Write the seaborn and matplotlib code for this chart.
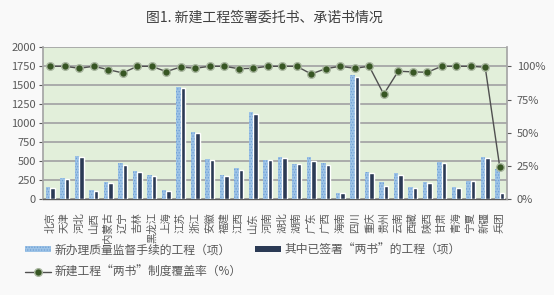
import numpy as np
import pandas as pd
import seaborn as sns
import matplotlib.pyplot as plt
from matplotlib.ticker import PercentFormatter

# 数据（从图中读取，估计值）
provinces = ["北京", "天津", "河北", "山西", "内蒙古", "辽宁", "吉林", "黑龙江", "上海", "江苏",
             "浙江", "安徽", "福建", "江西", "山东", "河南", "湖北", "湖南", "广东", "广西",
             "海南", "四川", "重庆", "贵州", "云南", "西藏", "陕西", "甘肃", "青海", "宁夏",
             "新疆", "兵团"]
new_projects = [158, 280, 575, 118, 232, 478, 368, 320, 118, 1482,
                890, 526, 316, 408, 1149, 513, 553, 465, 557, 478,
                88, 1636, 355, 232, 342, 158, 232, 487, 167, 241,
                557, 405]
signed_projects = [148, 270, 553, 110, 219, 447, 360, 311, 110, 1469,
                   868, 513, 311, 386, 1123, 513, 540, 465, 509, 452,
                   79, 1610, 346, 175, 320, 153, 210, 474, 154, 241,
                   548, 87]
coverage = [1.00, 1.00, 0.985, 1.00, 0.975, 0.95, 1.00, 1.00, 0.96, 0.995,
            0.985, 1.00, 1.00, 0.982, 0.985, 1.00, 1.00, 1.00, 0.942, 0.982,
            1.00, 0.985, 1.00, 0.79, 0.963, 0.958, 0.955, 1.00, 1.00, 1.00,
            0.993, 0.245]

label_new = "新办理质量监督手续的工程（项）"
label_signed = "其中已签署“两书”的工程（项）"
label_cov = "新建工程“两书”制度覆盖率（%）"
title = "图1. 新建工程签署委托书、承诺书情况"


def main():
    sns.set_theme(style="white")
    plt.rcParams['font.family'] = ['Noto Sans CJK SC', 'DejaVu Sans']
    plt.rcParams['hatch.linewidth'] = 0.6

    df = pd.DataFrame({
        "省份": provinces * 2,
        "数量": new_projects + signed_projects,
        "类别": [label_new] * len(provinces) + [label_signed] * len(provinces),
    })

    text_c = "#595959"
    fig = plt.figure(figsize=(5.54, 2.95), dpi=100, facecolor="#F9F9F9")
    ax = fig.add_axes([0.0776, 0.3244, 0.8375, 0.5153])
    ax.set_facecolor("#E2EFDA")

    sns.barplot(data=df, x="省份", y="数量", hue="类别", order=provinces,
                palette=["#9DC3E6", "#2B3A55"], width=0.6, gap=-0.08,
                saturation=1, ax=ax, legend=False, zorder=3)
    for bar in ax.containers[0]:
        bar.set_hatch("......")
        bar.set_edgecolor("#6E9FD6")
        bar.set_linewidth(0)
    for bar in ax.containers[1]:
        bar.set_zorder(4)

    ax.set_ylim(0, 2000)
    ax.set_yticks(range(0, 2001, 250))
    ax.set_xlim(-0.5, len(provinces) - 0.5)
    ax.grid(axis="y", color="#A6A6A6", linewidth=1.3, zorder=0)
    ax.set_axisbelow(True)
    ax.set_xlabel("")
    ax.set_ylabel("")
    ax.tick_params(axis="y", labelsize=8, colors=text_c, left=True, length=3,
                   width=0.8, pad=2)
    ax.tick_params(axis="x", labelsize=7.5, colors=text_c, bottom=False, pad=3)
    for lab in ax.get_xticklabels():
        lab.set_rotation(90)
        lab.set_va("top")
    for side in ["top", "right"]:
        ax.spines[side].set_visible(False)
    ax.spines["left"].set_color("#A6A6A6")
    ax.spines["bottom"].set_color("#595959")
    ax.spines["bottom"].set_linewidth(1.0)

    ax2 = ax.twinx()
    ax2.patch.set_visible(False)
    sns.lineplot(x=np.arange(len(provinces)), y=coverage, ax=ax2, color="#505050",
                 linewidth=1.0, marker="o", markersize=5.5,
                 markerfacecolor="#375623", markeredgecolor="#A9B7A0",
                 markeredgewidth=1.0, zorder=5)
    ax2.set_ylim(0, 2000 / 1750)
    ax2.set_yticks([0, 0.25, 0.5, 0.75, 1.0])
    ax2.yaxis.set_major_formatter(PercentFormatter(1.0, decimals=0))
    ax2.tick_params(axis="y", labelsize=8, colors=text_c, right=True, length=3,
                    width=0.8, pad=4)
    ax2.spines["right"].set_color("#A6A6A6")
    for side in ["top", "left", "bottom"]:
        ax2.spines[side].set_visible(False)
    ax2.set_xlim(-0.5, len(provinces) - 0.5)

    fig.text(0.477, 0.94, title, ha="center", va="center", fontsize=10,
             color="#404040")

    h_new = plt.Rectangle((0, 0), 1, 1, facecolor="#9DC3E6", edgecolor="#6E9FD6",
                          hatch="......", linewidth=0)
    h_signed = plt.Rectangle((0, 0), 1, 1, facecolor="#2B3A55", linewidth=0)
    h_cov = plt.Line2D([], [], color="#505050", linewidth=1.0, marker="o",
                       markersize=5.5, markerfacecolor="#375623",
                       markeredgecolor="#A9B7A0")
    leg = fig.legend(handles=[h_new, h_cov, h_signed],
                     labels=[label_new, label_cov, label_signed],
                     ncol=2, loc="upper left", bbox_to_anchor=(0.045, 0.175),
                     frameon=False, fontsize=8.5, handlelength=2.2,
                     handleheight=0.45, handletextpad=0.3, columnspacing=1.1,
                     labelspacing=0.75, borderaxespad=0, borderpad=0)
    for t in leg.get_texts():
        t.set_color(text_c)

    fig.savefig("out.png", dpi=100, facecolor=fig.get_facecolor())
    plt.close(fig)


if __name__ == "__main__":
    main()
